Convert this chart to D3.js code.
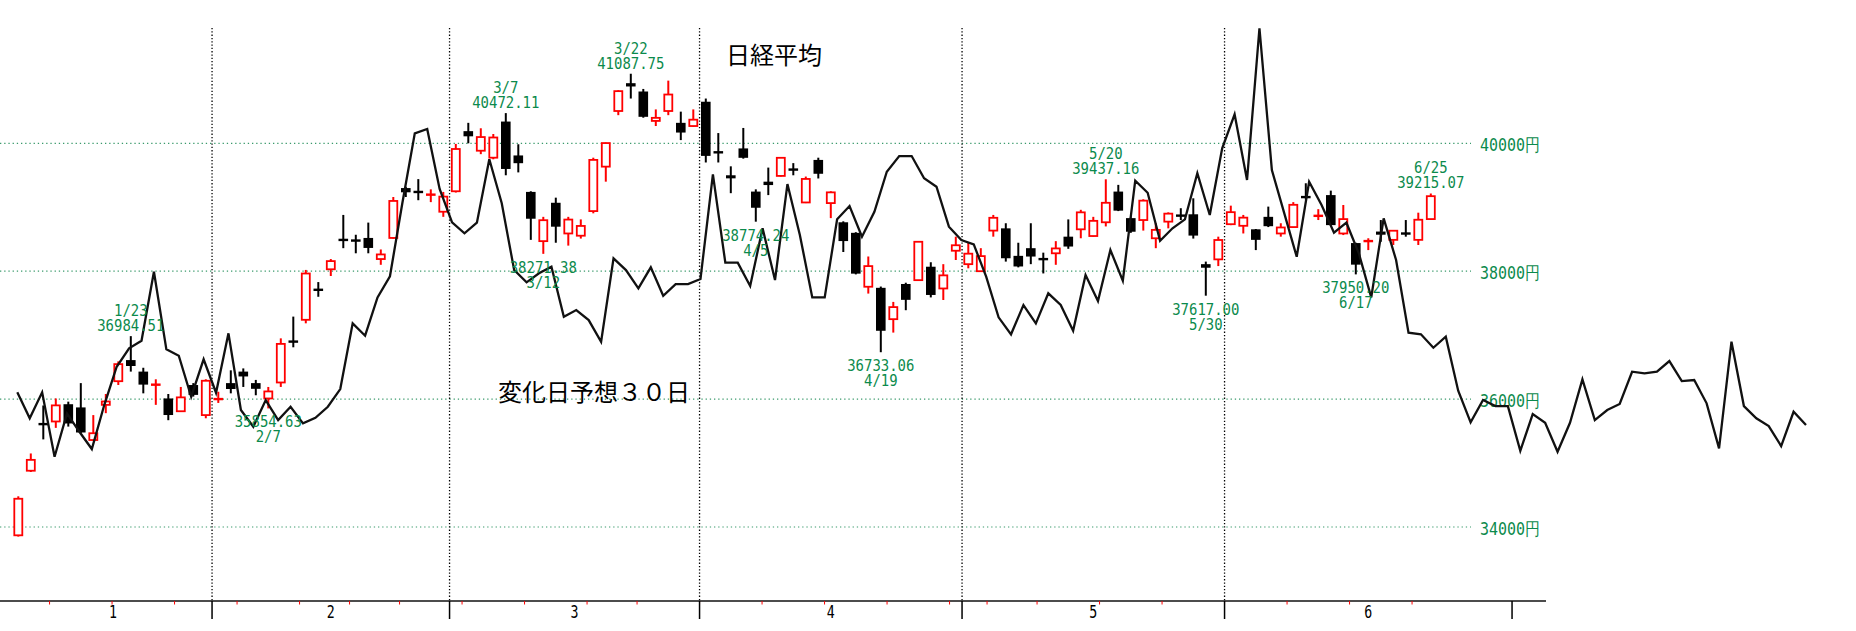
<!DOCTYPE html>
<html>
<head>
<meta charset="utf-8">
<script src="https://cdn.jsdelivr.net/npm/d3@7"></script>
<style>
  body { margin: 0; background: #fff; }
  svg { display: block; }
</style>
</head>
<body>
<svg id="chart"></svg>
<script>
// Nikkei 225 daily candles, 2024/1/10 - 6/25
const dates = [
  "1/10","1/11","1/12","1/15","1/16","1/17","1/18","1/19","1/22","1/23","1/24","1/25","1/26","1/29","1/30","1/31",
  "2/1","2/2","2/5","2/6","2/7","2/8","2/9","2/13","2/14","2/15","2/16","2/19","2/20","2/21","2/22","2/26","2/27","2/28","2/29",
  "3/1","3/4","3/5","3/6","3/7","3/8","3/11","3/12","3/13","3/14","3/15","3/18","3/19","3/21","3/22","3/25","3/26","3/27","3/28","3/29",
  "4/1","4/2","4/3","4/4","4/5","4/8","4/9","4/10","4/11","4/12","4/15","4/16","4/17","4/18","4/19","4/22","4/23","4/24","4/25","4/26","4/30",
  "5/1","5/2","5/7","5/8","5/9","5/10","5/13","5/14","5/15","5/16","5/17","5/20","5/21","5/22","5/23","5/24","5/27","5/28","5/29","5/30","5/31",
  "6/3","6/4","6/5","6/6","6/7","6/10","6/11","6/12","6/13","6/14","6/17","6/18","6/19","6/20","6/21","6/24","6/25"
];
const open = [
  33870,34880,35620,35650,35920,35870,35360,35910,36280,36610,36430,36205,36010,35810,36220,35750,
  36000,36250,36430,36250,36010,36260,36910,37240,37720,38030,38500,38490,38520,38190,38520,39300,39250,39190,38930,
  39250,40190,39884,39775,40340,39810,39240,38470,39070,38590,38555,38940,39635,40505,40940,40810,40350,40505,40320,40270,
  40650,39870,39500,39920,39245,39400,39490,39600,39075,39740,39065,38765,38600,37757,37740,37250,37800,37860,38070,37730,38320,
  38110,38000,38635,38670,38240,38360,38200,38280,38540,38655,38550,38765,39245,38830,38800,38515,38775,38880,38890,38110,38185,
  38735,38710,38655,38850,38590,38690,39170,38860,39190,38590,38440,38445,38620,38490,38600,38490,38815
];
const high = [
  34480,35150,35900,36010,35960,36250,35750,36080,36590,36984.51,36490,36310,36080,36190,36250,36310,
  36115,36450,36480,36300,36190,36950,37290,38020,37830,38190,38880,38570,38760,38340,39160,39320,39440,39280,39240,
  39990,40320,40235,40145,40472.11,39985,39250,38850,39150,38850,38810,39775,40010,40830,41087.75,40850,40530,40980,40495,40530,
  40700,40160,39640,40240,39280,39620,39780,39690,39480,39775,39250,38780,38610,38230,37760,37520,37820,38470,38140,38110,38540,
  38445,38360,38880,38750,38445,38750,38290,38470,38810,38960,38850,39437.16,39350,38840,39125,38750,38920,38985,39140,38150,38540,
  39025,38880,38660,39010,38750,39080,39375,38970,39260,39035,38445,38515,38800,38640,38800,38915,39215.07
];
const low = [
  33850,34860,35370,35550,35570,35470,35350,35780,36220,36430,36090,35910,35670,35800,36040,35700,
  35940,36090,36190,36060,35854.63,36190,36810,37185,37600,37925,38360,38280,38280,38100,38510,39160,39110,39080,38850,
  39230,40000,39830,39750,39500,39545,38490,38271.38,38445,38400,38510,38905,39400,40440,40700,40400,40270,40440,40050,40260,
  39700,39700,39220,39760,38774.24,39190,39480,39500,39065,39450,38830,38300,37950,37650,36733.06,37040,37390,37850,37590,37550,38175,
  38045,37990,38540,38150,38060,38110,37965,38100,38350,38515,38540,38700,38940,38600,38635,38360,38670,38800,38510,37617.00,38080,
  38720,38590,38330,38690,38540,38680,39120,38800,38720,38565,37950.20,38330,38460,38410,38540,38410,38810
];
const close = [
  34441.72,35049.86,35577.11,35901.79,35619.18,35477.75,35466.17,35963.27,36546.95,36517.57,36226.48,36236.47,35751.07,36026.94,36065.86,36286.71,
  36011.46,36158.02,36354.16,36160.66,36119.92,36863.28,36897.42,37963.97,37703.32,38157.94,38487.24,38470.38,38363.61,38262.16,39098.68,39233.71,39239.52,39208.03,39166.19,
  39910.82,40109.23,40097.63,40090.78,39598.71,39688.94,38820.49,38797.51,38695.97,38807.38,38707.64,39740.44,40003.60,40815.66,40888.43,40414.12,40398.03,40762.73,40168.07,40369.44,
  39803.09,39838.91,39451.85,39773.13,38992.08,39347.04,39773.14,39581.81,39442.63,39523.55,39232.80,38471.20,37961.80,38079.70,37068.35,37438.61,37552.16,38460.08,37628.48,37934.76,38405.66,
  38274.05,38236.07,38835.10,38202.37,38073.98,38229.11,38179.46,38356.06,38385.73,38920.26,38787.38,39069.68,38946.93,38617.10,39103.22,38646.11,38900.02,38855.37,38556.87,38054.13,38487.90,
  38923.03,38837.46,38490.17,38703.51,38683.93,39038.16,39134.79,38876.71,38720.47,38814.56,38102.44,38482.11,38570.76,38633.02,38596.47,38804.65,39173.15
];

// 変化日予想30日 (forecast line, one point per day)
const forecast = [
  36106,35699,36106,35098,35777,35489,35219,35907,36506,36794,36913,37992,36778,36678,36037,36622,
  36099,37028,35829,35568,35985,35672,35880,35621,35708,35880,36157,37185,36991,37591,37920,39066,
  40156,40224,39285,38764,38592,38758,39750,39062,38018,37826,37967,38070,37288,37393,37236,36897,
  38201,38018,37732,38061,37616,37799,37799,37878,39515,38133,38133,37768,38671,37862,39363,38566,
  37591,37591,38811,39019,38539,38930,39556,39801,39801,39453,39321,38696,38488,38420,37914,37279,
  37013,37471,37185,37654,37471,37069,37940,37534,38331,37851,39415,39227,38477,38671,38811,39531,
  38879,39922,40454,39426,41799,39582,38905,38226,39399,39035,38602,38758,38280,37591,38827,38175,
  37038,37013,36803,36975,36131,35636,35985,35891,35891,35192,35766,35630,35177,35630,36309,35672,
  35829,35923,36428,36403,36428,36595,36282,36298,35934,35230,36897,35891,35699,35579,35266,35802,
  35594
];

const gridLevels = [34000, 36000, 38000, 40000];
const monthNames = ["1", "2", "3", "4", "5", "6"];
const highMarks = ["1/23", "3/7", "3/22", "5/20", "6/25"];
const lowMarks = ["2/7", "3/12", "4/5", "4/19", "5/30", "6/17"];
const titleText = "日経平均";
const lineTitle = "変化日予想３０日";

const width = 1856, height = 631;
const GREEN = "#0b8a4c";
const hiddenJanDays = 3;   // 1/4, 1/5, 1/9 fall off the left edge
const axisEndIdx = 119.5;

const x = d3.scaleLinear().domain([0, dates.length - 1]).range([18.3, 1430.8]);
const xf = d3.scaleLinear().domain([0, forecast.length - 1]).range([17.3, 1806]);
const y = d3.scaleLinear().domain([34000, 40000]).range([527, 143.3]);

const svg = d3.select("#chart").attr("width", width).attr("height", height);
svg.append("rect").attr("width", width).attr("height", height).attr("fill", "#fff");

const dayObj = dates.map(s => { const [m, d] = s.split("/").map(Number); return new Date(2024, m - 1, d); });

// month boundaries
const monthBounds = [-0.5 - hiddenJanDays];
dayObj.forEach((d, i) => { if (i > 0 && d.getMonth() !== dayObj[i - 1].getMonth()) monthBounds.push(i - 0.5); });
monthBounds.push(axisEndIdx);

// week boundaries
const weekBounds = [];
dayObj.forEach((d, i) => {
  if (i > 0 && (d.getDay() <= dayObj[i - 1].getDay() || d - dayObj[i - 1] > 6 * 864e5)) weekBounds.push(i - 0.5);
});

// horizontal grid
svg.append("g").selectAll("line").data(gridLevels).join("line")
  .attr("x1", 0).attr("x2", 1471)
  .attr("y1", d => y(d)).attr("y2", d => y(d))
  .attr("stroke", "#3a9a6c").attr("stroke-width", 1.2).attr("stroke-dasharray", "1.3,2.9");

svg.append("g").selectAll("text").data(gridLevels).join("text")
  .attr("x", 1480).attr("y", d => y(d) + 8)
  .attr("font-family", "'DejaVu Sans Mono', monospace").attr("font-size", 18)
  .attr("fill", GREEN)
  .attr("textLength", 60).attr("lengthAdjust", "spacingAndGlyphs")
  .text(d => d + "円");

// vertical month lines (dotted)
svg.append("g").selectAll("line").data(monthBounds.slice(1, -1)).join("line")
  .attr("x1", d => x(d)).attr("x2", d => x(d))
  .attr("y1", 28).attr("y2", 601)
  .attr("stroke", "#000").attr("stroke-width", 1.3).attr("stroke-dasharray", "1.3,2");

// x axis
const axisY = 601;
svg.append("line").attr("x1", 0).attr("x2", 1546).attr("y1", axisY).attr("y2", axisY)
  .attr("stroke", "#111").attr("stroke-width", 1.4);
svg.append("g").selectAll("line").data(weekBounds).join("line")
  .attr("x1", d => x(d)).attr("x2", d => x(d))
  .attr("y1", axisY).attr("y2", axisY + 3.5)
  .attr("stroke", "#ff0000").attr("stroke-width", 1);
svg.append("g").selectAll("line").data(monthBounds.slice(1)).join("line")
  .attr("x1", d => x(d)).attr("x2", d => x(d))
  .attr("y1", axisY).attr("y2", 619)
  .attr("stroke", "#000").attr("stroke-width", 1.5);
svg.append("g").selectAll("text").data(monthNames).join("text")
  .attr("x", (d, i) => (Math.max(x(monthBounds[i]), 14) + x(monthBounds[i + 1])) / 2 - 4)
  .attr("y", 618)
  .attr("font-family", "'DejaVu Sans Mono', monospace").attr("font-size", 18)
  .attr("fill", "#000")
  .attr("textLength", 8).attr("lengthAdjust", "spacingAndGlyphs")
  .text(d => d);

// candles
const bw = 8;
const candles = svg.append("g");
dates.forEach((dt, i) => {
  const up = close[i] > open[i];
  const col = up ? "#ff0000" : "#000";
  const cx = x(i);
  candles.append("line")
    .attr("x1", cx).attr("x2", cx).attr("y1", y(high[i])).attr("y2", y(low[i]))
    .attr("stroke", col).attr("stroke-width", 2);
  const top = y(Math.max(open[i], close[i])), bot = y(Math.min(open[i], close[i]));
  const h = Math.max(bot - top, 2);
  if (up && h > 3) {
    candles.append("rect")
      .attr("x", cx - bw / 2).attr("y", top).attr("width", bw).attr("height", h)
      .attr("fill", "#fff").attr("stroke", col).attr("stroke-width", 1.8);
  } else {
    candles.append("rect")
      .attr("x", cx - bw / 2 - 0.8).attr("y", top - (h <= 3 ? 0.5 : 0)).attr("width", bw + 1.6).attr("height", h <= 3 ? 2.4 : h)
      .attr("fill", col);
  }
});

// forecast line
svg.append("path")
  .datum(forecast)
  .attr("fill", "none").attr("stroke", "#111").attr("stroke-width", 2.3).attr("stroke-linejoin", "miter")
  .attr("d", d3.line().x((d, i) => xf(i)).y(d => y(d)));

// high / low annotations
const cw = 8.4;
function label(txt, cx, by) {
  svg.append("text")
    .attr("x", cx - txt.length * cw / 2).attr("y", by)
    .attr("font-family", "'DejaVu Sans Mono', monospace").attr("font-size", 16)
    .attr("fill", GREEN)
    .attr("textLength", txt.length * cw).attr("lengthAdjust", "spacingAndGlyphs")
    .text(txt);
}
highMarks.forEach(dt => {
  const i = dates.indexOf(dt);
  const yy = y(high[i]);
  label(high[i].toFixed(2), x(i), yy - 5);
  label(dt, x(i), yy - 20);
});
lowMarks.forEach(dt => {
  const i = dates.indexOf(dt);
  const yy = y(low[i]);
  label(low[i].toFixed(2), x(i), yy + 19);
  label(dt, x(i), yy + 34);
});

// titles
svg.append("text").attr("x", 726).attr("y", 64)
  .attr("font-family", "'Noto Sans CJK JP', sans-serif").attr("font-size", 24)
  .attr("fill", "#000").text(titleText);
svg.append("text").attr("x", 498).attr("y", 401)
  .attr("font-family", "'Noto Sans CJK JP', sans-serif").attr("font-size", 24)
  .attr("fill", "#000").text(lineTitle);
</script>
</body>
</html>
